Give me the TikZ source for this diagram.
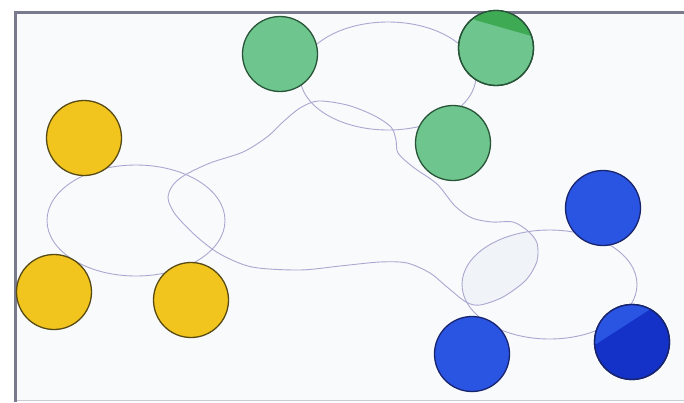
\documentclass[tikz,border=0pt]{standalone}
\usepackage{tikz}
\definecolor{ylw}{RGB}{242,197,30}
\definecolor{ylwdk}{RGB}{88,74,20}
\definecolor{grn}{RGB}{110,198,142}
\definecolor{grnhi}{RGB}{62,170,84}
\definecolor{grndk}{RGB}{40,84,56}
\definecolor{blu}{RGB}{42,84,226}
\definecolor{bludp}{RGB}{20,50,200}
\definecolor{bludk}{RGB}{24,36,110}
\definecolor{hullc}{RGB}{170,168,208}
\definecolor{lensc}{RGB}{240,243,247}
\definecolor{framec}{RGB}{122,122,142}
\definecolor{paper}{RGB}{248,250,252}

\begin{document}
\begin{tikzpicture}[
  x=1pt, y=-1pt,
  vertex/.style={circle, line width=1.3pt, minimum size=75pt, inner sep=0pt},
  yv/.style={vertex, draw=ylwdk, fill=ylw},
  gv/.style={vertex, draw=grndk, fill=grn},
  bv/.style={vertex, draw=bludk, fill=blu},
  hull/.style={draw=hullc, line width=0.9pt}
]
  \useasboundingbox (0,0) rectangle (684,402);
  \fill[paper] (15,12) rectangle (684,400);
  \draw[framec!40, line width=1pt] (15,400) -- (684,400);
  \draw[framec, line width=3pt] (15,402) -- (15,12) -- (684,12);

  \def\blob{plot[smooth cycle, tension=0.5] coordinates {
    (185,175) (210,163) (243,152) (267,137) (284,121) (300,108) (318,101)
    (347,105) (373,115) (391,127) (396,140) (398,153) (413,167) (437,184)
    (455,206) (472,218) (492,222) (513,222) (528,231) (537,243) (537,261)
    (526,280) (503,297) (480,305) (466,302) (447,287) (430,273) (407,263)
    (380,262) (340,266) (300,270) (252,267) (220,254) (196,236) (175,214)
    (168,198) (173,185)}}
  \begin{scope}
    \clip (549.5,284.5) ellipse[x radius=87.5, y radius=54.5];
    \fill[lensc] \blob;
  \end{scope}

  \draw[hull] (136,220.5) ellipse[x radius=89, y radius=55.5];
  \draw[hull] (388,76) ellipse[x radius=88, y radius=54];
  \draw[hull] (549.5,284.5) ellipse[x radius=87.5, y radius=54.5];
  \draw[hull] \blob;

  \node[yv] (y1) at (84,138) {};
  \node[yv] (y2) at (54,292) {};
  \node[yv] (y3) at (191,300) {};
  \node[gv] (g1) at (280,54) {};
  \node[gv] (g2) at (496,48) {};
  \node[gv] (g3) at (453,143) {};
  \node[bv] (b1) at (603,208) {};
  \node[bv] (b2) at (472,354) {};
  \node[bv, fill=bludp] (b3) at (632,342) {};

  \begin{scope}
    \clip (g2.center) circle[radius=36.8];
    \fill[grnhi] (460,0) -- (475,20) -- (535,37) -- (540,0) -- cycle;
  \end{scope}
  \begin{scope}
    \clip (b3.center) circle[radius=36.8];
    \fill[blu] (590,300) -- (590,348) -- (652,308) -- (652,300) -- cycle;
  \end{scope}
  \draw[grndk, line width=1.3pt] (g2.center) circle[radius=37.5];
  \draw[bludk, line width=1.3pt] (b3.center) circle[radius=37.5];
\end{tikzpicture}
\end{document}
